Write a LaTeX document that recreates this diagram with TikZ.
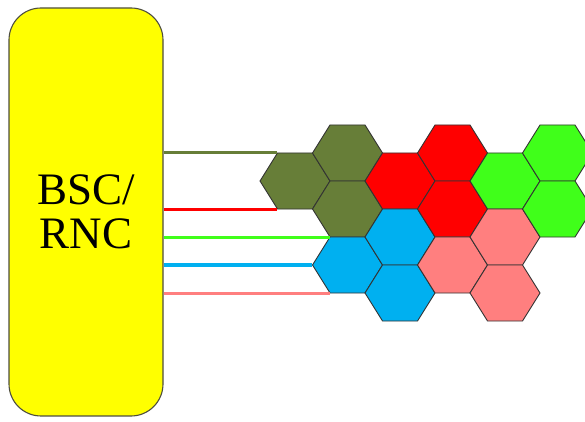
\documentclass[tikz,border=0pt]{standalone}
\usepackage{fontspec}
\setmainfont{Liberation Serif}
\usetikzlibrary{shapes.geometric}
\definecolor{ctrlfill}{HTML}{FFFF00}
\definecolor{ctrlln}{HTML}{4D4D40}
\definecolor{cellln}{HTML}{333333}
\definecolor{olivec}{HTML}{677E38}
\definecolor{redc}{HTML}{FF0000}
\definecolor{greenc}{HTML}{40FF1A}
\definecolor{bluec}{HTML}{00B0F0}
\definecolor{pinkc}{HTML}{FF7F7F}
\tikzset{
  rnc/.style={draw=ctrlln,fill=ctrlfill,rounded corners=32pt,line width=1.1pt,
              minimum width=154pt,minimum height=408pt,align=center,
              font=\fontsize{45}{44}\selectfont,inner sep=0pt},
  cell/.style={regular polygon,regular polygon sides=6,minimum size=70pt,
               inner sep=0pt,yscale=0.924,transform shape,draw=cellln,line width=0.9pt},
  feed/.style={line width=3.5pt},
}

\begin{document}
\begin{tikzpicture}[x=1pt,y=1pt]
\useasboundingbox (0,0) rectangle (585,422);
\node[rnc] (ctrl) at (86,210) {BSC/\\RNC};

% cells, column by column
\node[cell,fill=olivec] (o1) at (295,241) {};
\node[cell,fill=olivec] (o2) at (347.5,269) {};
\node[cell,fill=olivec] (o3) at (347.5,213) {};
\node[cell,fill=bluec] (b1) at (347.5,157) {};
\node[cell,fill=redc] (r1) at (400,241) {};
\node[cell,fill=bluec] (b2) at (400,185) {};
\node[cell,fill=bluec] (b3) at (400,129) {};
\node[cell,fill=redc] (r2) at (452.5,269) {};
\node[cell,fill=redc] (r3) at (452.5,213) {};
\node[cell,fill=pinkc] (p1) at (452.5,157) {};
\node[cell,fill=greenc] (g1) at (505,241) {};
\node[cell,fill=pinkc] (p2) at (505,185) {};
\node[cell,fill=pinkc] (p3) at (505,129) {};
\node[cell,fill=greenc] (g2) at (557.5,269) {};
\node[cell,fill=greenc] (g3) at (557.5,213) {};

% feeders
\draw[feed,olivec] (ctrl.east |- o1.120) -- (o1.120);
\draw[feed,redc] (ctrl.east |- o1.240) -- (o1.240);
\draw[feed,greenc] (ctrl.east |- o3.240) -- (o3.240);
\draw[feed,bluec] (ctrl.east |- b1.180) -- (b1.180);
\draw[feed,pinkc] (ctrl.east |- b1.240) -- (b1.240);
\end{tikzpicture}
\end{document}
